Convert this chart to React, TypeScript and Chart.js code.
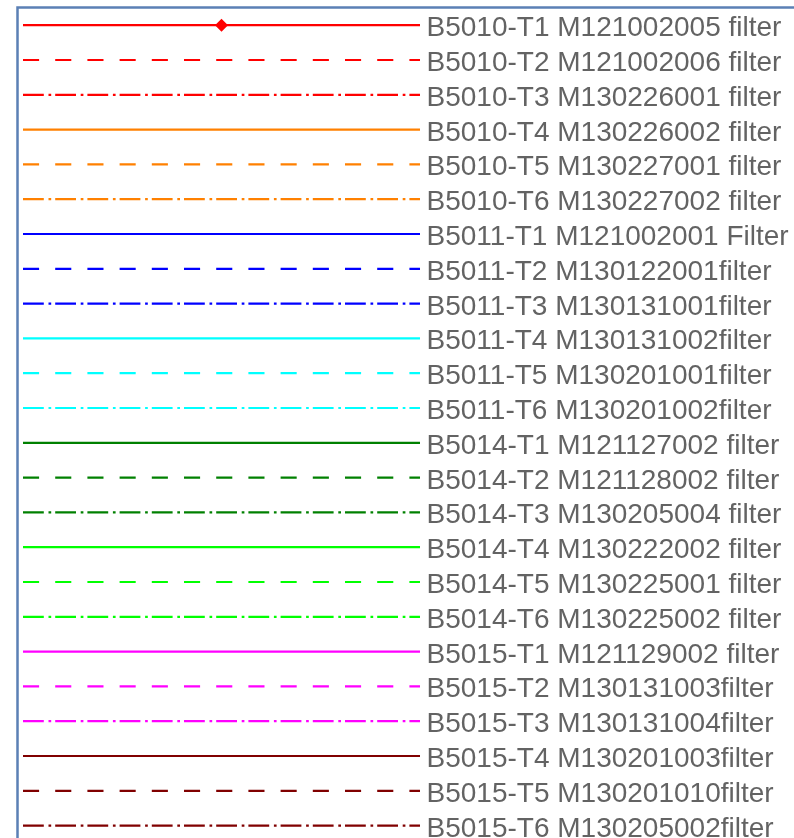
import { useEffect, useRef } from 'react';
import { Chart, registerables } from 'chart.js';

Chart.register(...registerables);

// Series names shown in the legend
const SERIES_LABELS: string[] = [
  'B5010-T1 M121002005 filter',
  'B5010-T2 M121002006 filter',
  'B5010-T3 M130226001 filter',
  'B5010-T4 M130226002 filter',
  'B5010-T5 M130227001 filter',
  'B5010-T6 M130227002 filter',
  'B5011-T1 M121002001 Filter',
  'B5011-T2 M130122001filter',
  'B5011-T3 M130131001filter',
  'B5011-T4 M130131002filter',
  'B5011-T5 M130201001filter',
  'B5011-T6 M130201002filter',
  'B5014-T1 M121127002 filter',
  'B5014-T2 M121128002 filter',
  'B5014-T3 M130205004 filter',
  'B5014-T4 M130222002 filter',
  'B5014-T5 M130225001 filter',
  'B5014-T6 M130225002 filter',
  'B5015-T1 M121129002 filter',
  'B5015-T2 M130131003filter',
  'B5015-T3 M130131004filter',
  'B5015-T4 M130201003filter',
  'B5015-T5 M130201010filter',
  'B5015-T6 M130205002filter',
];

// Line colour of each series
const SERIES_COLORS: string[] = [
  '#ff0000', '#ff0000', '#ff0000',
  '#ff8000', '#ff8000', '#ff8000',
  '#0000ff', '#0000ff', '#0000ff',
  '#00ffff', '#00ffff', '#00ffff',
  '#008000', '#008000', '#008000',
  '#00ff00', '#00ff00', '#00ff00',
  '#ff00ff', '#ff00ff', '#ff00ff',
  '#800000', '#800000', '#800000',
];

// Line style of each series
const SERIES_LINESTYLES: string[] = [
  'solid', 'dash', 'dashdot',
  'solid', 'dash', 'dashdot',
  'solid', 'dash', 'dashdot',
  'solid', 'dash', 'dashdot',
  'solid', 'dash', 'dashdot',
  'solid', 'dash', 'dashdot',
  'solid', 'dash', 'dashdot',
  'solid', 'dash', 'dashdot',
];

// Marker of each series ('' = none)
const SERIES_MARKERS: string[] = [
  'diamond', '', '', '', '', '', '', '', '', '', '', '',
  '', '', '', '', '', '', '', '', '', '', '', '',
];

// Data of each series: hidden entirely behind the legend in the reference
const SERIES_VALUES: number[][] = [
  [], [], [], [], [], [], [], [], [], [], [], [],
  [], [], [], [], [], [], [], [], [], [], [], [],
];

const DASHES: Record<string, number[]> = {
  solid: [],
  dash: [16.1, 16.1],
  dashdot: [20.8, 4.7, 2.7, 4.0],
};

const W = 794;
const H = 838;

const legendBoxPlugin = {
  id: 'legendBox',
  afterDraw(chart: any) {
    const ctx: CanvasRenderingContext2D = chart.ctx;
    const datasets = chart.data.datasets;
    const boxLeft = 17.5;
    const boxTop = 7.5;
    const firstRowY = 25.2;
    const rowStep = 34.8;
    const lineX0 = 23;
    const lineX1 = 420;
    const textX = 426.5;

    ctx.save();
    ctx.fillStyle = '#ffffff';
    ctx.fillRect(boxLeft, boxTop, chart.width, chart.height);
    ctx.strokeStyle = '#5b80b5';
    ctx.lineWidth = 2.5;
    ctx.strokeRect(boxLeft, boxTop, chart.width + 40, chart.height + 40);

    datasets.forEach((d: any, i: number) => {
      const y = firstRowY + i * rowStep;
      ctx.strokeStyle = d.borderColor;
      ctx.lineWidth = d.borderWidth;
      ctx.lineCap = 'butt';
      ctx.setLineDash(d.borderDash || []);
      ctx.beginPath();
      ctx.moveTo(lineX0, y);
      ctx.lineTo(lineX1, y);
      ctx.stroke();
      ctx.setLineDash([]);

      if (d.pointStyle === 'rectRot') {
        const cx = (lineX0 + lineX1) / 2;
        const r = d.pointRadius;
        ctx.fillStyle = d.borderColor;
        ctx.beginPath();
        ctx.moveTo(cx - r, y);
        ctx.lineTo(cx, y - r);
        ctx.lineTo(cx + r, y);
        ctx.lineTo(cx, y + r);
        ctx.closePath();
        ctx.fill();
      }

      ctx.fillStyle = '#636363';
      ctx.font = '28px "Liberation Sans", Arial, sans-serif';
      ctx.textAlign = 'left';
      ctx.textBaseline = 'alphabetic';
      ctx.fillText(d.label, textX, y + 11);
    });
    ctx.restore();
  },
};

export default function App() {
  const canvasRef = useRef<HTMLCanvasElement | null>(null);

  useEffect(() => {
    if (!canvasRef.current) return;
    const datasets = SERIES_LABELS.map((label, i) => ({
      label,
      data: SERIES_VALUES[i],
      borderColor: SERIES_COLORS[i],
      backgroundColor: SERIES_COLORS[i],
      borderWidth: 2.2,
      borderDash: DASHES[SERIES_LINESTYLES[i]],
      pointStyle: SERIES_MARKERS[i] === 'diamond' ? 'rectRot' : 'circle',
      pointRadius: SERIES_MARKERS[i] === 'diamond' ? 6.5 : 0,
    }));
    const chart = new Chart(canvasRef.current, {
      type: 'line',
      data: { labels: [], datasets },
      options: {
        animation: false,
        responsive: false,
        maintainAspectRatio: false,
        layout: { padding: 0 },
        plugins: {
          legend: { display: false },
          tooltip: { enabled: false },
        },
        scales: {
          x: { display: false },
          y: { display: false },
        },
      },
      plugins: [legendBoxPlugin],
    });
    return () => chart.destroy();
  }, []);

  return (
    <div style={{ position: 'fixed', left: 0, top: 0, width: W, height: H, background: '#fff' }}>
      <canvas ref={canvasRef} width={W} height={H} style={{ display: 'block', width: W, height: H }} />
    </div>
  );
}
